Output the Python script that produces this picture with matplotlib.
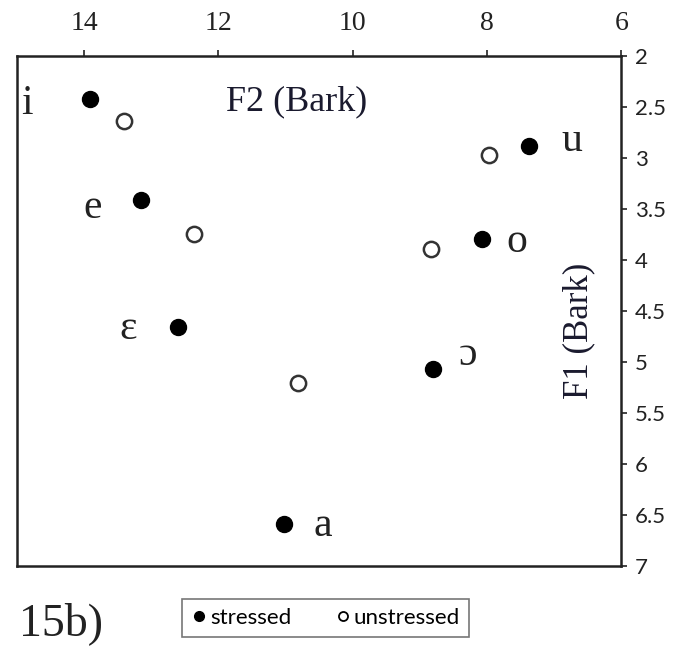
import matplotlib
matplotlib.use("Agg")
import matplotlib.pyplot as plt
from matplotlib.lines import Line2D

# F2 / F1 in Bark
stressed_f2 = [13.91, 13.15, 12.60, 11.02, 8.81, 8.08, 7.37]
stressed_f1 = [2.42, 3.41, 4.66, 6.59, 5.07, 3.79, 2.88]

unstressed_f2 = [13.40, 12.37, 10.81, 8.83, 7.97]
unstressed_f1 = [2.64, 3.75, 5.21, 3.89, 2.97]

vowels = ["i", "e", "ɛ", "a", "ɔ", "o", "u"]
vowel_f2 = [14.85, 13.88, 13.34, 10.45, 8.28, 7.55, 6.74]
vowel_f1 = [2.47, 3.49, 4.67, 6.60, 4.93, 3.82, 2.83]

x_ticks = [14, 12, 10, 8, 6]
y_ticks = [2, 2.5, 3, 3.5, 4, 4.5, 5, 5.5, 6, 6.5, 7]

serif = "Liberation Serif"
sans = "Lato"

fig = plt.figure(figsize=(6.82, 6.5), dpi=100)
ax = fig.add_axes([0.025, 0.129, 0.886, 0.785])

ax.plot(stressed_f2, stressed_f1, "o", ms=11.5, color="black", mec="black")
ax.plot(unstressed_f2, unstressed_f1, "o", ms=11, mfc="white", mec="#333333", mew=1.8)

for v, x, y in zip(vowels, vowel_f2, vowel_f1):
    ax.text(x, y, v, fontsize=30, family=serif, ha="center", va="center", color="#222222")

ax.text(10.83, 2.45, "F2 (Bark)", fontsize=26, family=serif, ha="center", va="center",
        color="#1a1a2e")
ax.text(6.64, 4.69, "F1 (Bark)", fontsize=25, family=serif, ha="center", va="center",
        rotation=90, color="#1a1a2e")

ax.set_xlim(15, 6)
ax.set_ylim(7, 2)
ax.set_xticks(x_ticks)
ax.set_yticks(y_ticks)
ax.set_yticklabels([f"{t:g}" for t in y_ticks])

ax.xaxis.tick_top()
ax.yaxis.tick_right()
ax.tick_params(axis="x", direction="out", length=4, width=1.2, pad=10, labelsize=20,
               colors="#222222")
ax.tick_params(axis="y", direction="out", length=4, width=1.2, pad=6, labelsize=16,
               colors="#222222")
for lab in ax.get_xticklabels():
    lab.set_family(serif)
for lab in ax.get_yticklabels():
    lab.set_family(sans)

for s in ax.spines.values():
    s.set_linewidth(1.8)
    s.set_color("#222222")

fig.text(0.089, 0.04, "15b)", fontsize=33, family=serif, ha="center", va="center",
         color="#222222")

handles = [
    Line2D([], [], ls="", marker="o", ms=7, color="black"),
    Line2D([], [], ls="", marker="o", ms=6.5, mfc="white", mec="black", mew=1.3),
]
leg = fig.legend(handles, ["stressed", "unstressed"], loc="center",
                 bbox_to_anchor=(0.477, 0.049), ncol=2, frameon=True, fancybox=False,
                 prop={"family": sans, "size": 16}, handletextpad=0.1,
                 columnspacing=1.9, handlelength=0.8, borderpad=0.4)
leg.get_frame().set_edgecolor("#555555")
leg.get_frame().set_linewidth(1.2)

fig.savefig("out.png", dpi=100)
